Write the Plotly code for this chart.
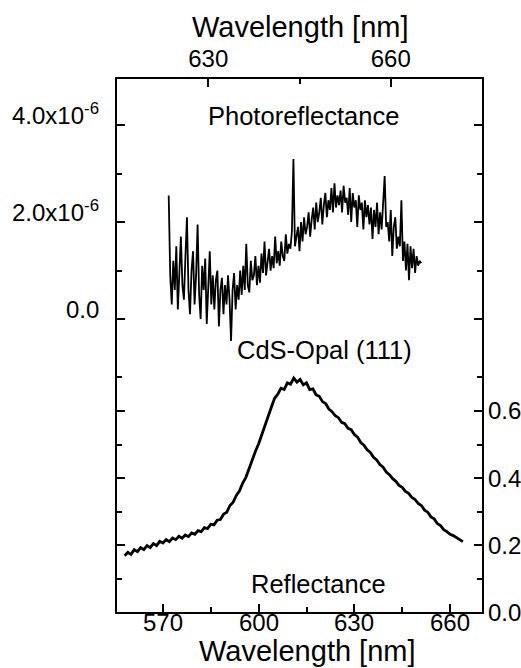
import plotly.graph_objects as go

# Photoreflectance (top wavelength scale), signal in units of 1e-6
pr_wavelength = [
    623.5, 623.75, 624.0, 624.25, 624.5, 624.75, 625.0, 625.25,
    625.5, 625.75, 626.0, 626.25, 626.5, 626.75, 627.0, 627.25,
    627.5, 627.75, 628.0, 628.25, 628.5, 628.75, 629.0, 629.25,
    629.5, 629.75, 630.0, 630.25, 630.5, 630.75, 631.0, 631.25,
    631.5, 631.75, 632.0, 632.25, 632.5, 632.75, 633.0, 633.25,
    633.5, 633.75, 634.0, 634.25, 634.5, 634.75, 635.0, 635.25,
    635.5, 635.75, 636.0, 636.25, 636.5, 636.75, 637.0, 637.25,
    637.5, 637.75, 638.0, 638.25, 638.5, 638.75, 639.0, 639.25,
    639.5, 639.75, 640.0, 640.25, 640.5, 640.75, 641.0, 641.25,
    641.5, 641.75, 642.0, 642.25, 642.5, 642.75, 643.0, 643.25,
    643.5, 643.75, 644.0, 644.25, 644.5, 644.75, 645.0, 645.25,
    645.5, 645.75, 646.0, 646.25, 646.5, 646.75, 647.0, 647.25,
    647.5, 647.75, 648.0, 648.25, 648.5, 648.75, 649.0, 649.25,
    649.5, 649.75, 650.0, 650.25, 650.5, 650.75, 651.0, 651.25,
    651.5, 651.75, 652.0, 652.25, 652.5, 652.75, 653.0, 653.25,
    653.5, 653.75, 654.0, 654.25, 654.5, 654.75, 655.0, 655.25,
    655.5, 655.75, 656.0, 656.25, 656.5, 656.75, 657.0, 657.25,
    657.5, 657.75, 658.0, 658.25, 658.5, 658.75, 659.0, 659.25,
    659.5, 659.75, 660.0, 660.25, 660.5, 660.75, 661.0, 661.25,
    661.5, 661.75, 662.0, 662.25, 662.5, 662.75, 663.0, 663.25,
    663.5, 663.75, 664.0, 664.25, 664.5, 664.75, 665.0,
]
pr_signal = [
    2.55, 0.90, 0.30, 1.20, 0.60, 1.50, 0.20, 1.10,
    1.70, 0.70, 0.40, 1.30, 2.10, 0.60, 0.10, 1.00,
    1.40, 0.30, 0.90, 1.95, 0.50, 0.00, 1.10, 0.60,
    1.25, -0.10, 0.70, 1.40, 0.30, 0.90, 0.20, 0.80,
    1.00, -0.15, 0.60, 0.85, 0.10, 0.70, 0.30, 0.90,
    0.40, -0.45, 0.60, 0.95, 0.20, 0.70, 0.40, 1.00,
    0.50, 1.10, 0.60, 1.55, 0.70, 0.55, 1.20, 0.80,
    0.90, 1.30, 0.70, 1.10, 0.75, 1.35, 0.95, 1.60,
    0.90, 1.20, 1.45, 1.00, 1.30, 1.05, 1.70, 1.15,
    1.40, 1.10, 1.60, 1.30, 1.20, 1.75, 1.35, 1.55,
    1.45, 1.80, 3.30, 1.50, 1.70, 1.90, 1.40, 2.00,
    1.60, 2.10, 1.75, 1.90, 2.20, 1.70, 2.05, 2.30,
    1.85, 2.40, 2.00, 2.20, 2.50, 1.95, 2.35, 2.60,
    2.10, 2.45, 2.25, 2.70, 2.20, 2.80, 2.30, 2.55,
    2.35, 2.65, 2.20, 2.75, 2.40, 2.50, 2.15, 2.70,
    2.00, 2.60, 2.30, 2.45, 1.90, 2.55, 2.25, 2.40,
    1.85, 2.45, 2.10, 2.35, 1.95, 2.30, 1.65, 2.25,
    1.90, 2.40, 1.75, 2.20, 1.85, 2.50, 2.95, 1.90,
    2.00, 1.60, 2.25, 1.30, 1.90, 2.10, 1.45, 1.70,
    1.50, 2.45, 1.20, 1.60, 1.00, 1.55, 0.80, 1.50,
    1.05, 1.45, 0.95, 1.30, 1.10, 1.20, 1.15,
]

# Reflectance (bottom wavelength scale)
refl_wavelength = [
    558, 559, 560, 561, 562, 563, 564, 565, 566, 567,
    568, 569, 570, 571, 572, 573, 574, 575, 576, 577,
    578, 579, 580, 581, 582, 583, 584, 585, 586, 587,
    588, 589, 590, 591, 592, 593, 594, 595, 596, 597,
    598, 599, 600, 601, 602, 603, 604, 605, 606, 607,
    608, 609, 610, 611, 612, 613, 614, 615, 616, 617,
    618, 619, 620, 621, 622, 623, 624, 625, 626, 627,
    628, 629, 630, 631, 632, 633, 634, 635, 636, 637,
    638, 639, 640, 641, 642, 643, 644, 645, 646, 647,
    648, 649, 650, 651, 652, 653, 654, 655, 656, 657,
    658, 659, 660, 661, 662, 663, 664,
]
refl_signal = [
    0.168, 0.178, 0.172, 0.186, 0.180, 0.192, 0.186, 0.198, 0.192, 0.204,
    0.198, 0.211, 0.206, 0.216, 0.210, 0.221, 0.216, 0.226, 0.220, 0.230,
    0.225, 0.236, 0.232, 0.243, 0.240, 0.252, 0.249, 0.262, 0.260, 0.274,
    0.276, 0.292, 0.298, 0.318, 0.328, 0.348, 0.362, 0.385, 0.402, 0.430,
    0.452, 0.480, 0.502, 0.530, 0.556, 0.590, 0.612, 0.638, 0.650, 0.668,
    0.664, 0.684, 0.680, 0.698, 0.686, 0.694, 0.678, 0.684, 0.664, 0.666,
    0.648, 0.644, 0.628, 0.622, 0.606, 0.598, 0.586, 0.580, 0.566, 0.562,
    0.548, 0.544, 0.530, 0.522, 0.506, 0.498, 0.484, 0.476, 0.462, 0.454,
    0.440, 0.432, 0.418, 0.410, 0.398, 0.390, 0.378, 0.372, 0.360, 0.354,
    0.342, 0.336, 0.324, 0.318, 0.304, 0.298, 0.284, 0.278, 0.264, 0.258,
    0.246, 0.240, 0.232, 0.228, 0.222, 0.218, 0.210,
]

bottom_ticks = [570, 600, 630, 660]
bottom_minor = [585, 615, 645]
top_ticks = [630, 660]
top_minor = [645]
pr_ticks = [0, 2, 4]
pr_minor = [1, 3]
pr_ticktext = ["0.0", "2.0x10<sup>-6</sup>", "4.0x10<sup>-6</sup>"]
refl_ticks = [0.0, 0.2, 0.4, 0.6]
refl_minor = [0.1, 0.3, 0.5, 0.7]
refl_ticktext = ["0.0", "0.2", "0.4", "0.6"]

FONT = "Liberation Sans, Arial, sans-serif"
W, H = 521, 668
L, R, T, B = 117, 482, 79, 612  # plot frame in pixels

fig = go.Figure()
fig.add_trace(go.Scatter(
    x=refl_wavelength, y=refl_signal, xaxis="x", yaxis="y",
    mode="lines", line=dict(color="black", width=2.8), showlegend=False,
))
fig.add_trace(go.Scatter(
    x=pr_wavelength, y=pr_signal, xaxis="x2", yaxis="y2",
    mode="lines", line=dict(color="black", width=1.8), showlegend=False,
))


def minor(vals):
    return dict(tickvals=vals, ticks="inside", ticklen=5, tickwidth=2,
                tickcolor="black")


axis_common = dict(
    showline=True, linecolor="black", linewidth=2, showgrid=False,
    zeroline=False, ticks="inside", ticklen=8, tickwidth=2, tickcolor="black",
    tickmode="array", automargin=False,
    tickfont=dict(family=FONT, size=24, color="black"),
)

fig.update_layout(
    width=W, height=H,
    margin=dict(l=L, r=W - R, t=T, b=H - B),
    paper_bgcolor="white", plot_bgcolor="white",
    font=dict(family=FONT, color="black"),
    xaxis=dict(range=[555.6, 670], tickvals=bottom_ticks,
               minor=minor(bottom_minor), anchor="y", side="bottom",
               showticklabels=False, **axis_common),
    yaxis=dict(range=[0, 1.591], tickvals=refl_ticks,
               minor=minor(refl_minor), mirror="ticks", anchor="x",
               side="right", showticklabels=False, **axis_common),
    xaxis2=dict(range=[615, 675], tickvals=top_ticks, minor=minor(top_minor),
                overlaying="x", anchor="y2", side="top", **axis_common),
    yaxis2=dict(range=[-6.04, 4.95], tickvals=pr_ticks,
                minor=minor(pr_minor), mirror="ticks", overlaying="y",
                anchor="x2", side="left", showticklabels=False,
                **axis_common),
)


def px_x(px):
    return (px - L) / (R - L)


def px_y(py):
    return (B - py) / (B - T)


def label(text, px, py, size):
    fig.add_annotation(
        text=text, x=px_x(px), y=px_y(py), xref="paper", yref="paper",
        xanchor="center", yanchor="middle", showarrow=False,
        font=dict(family=FONT, size=size, color="black"),
    )


tick_font = dict(family=FONT, size=24, color="black")

# tick labels placed by hand, close to the frame as in the reference
for v in bottom_ticks:
    fig.add_annotation(text=str(v), x=v, xref="x", y=px_y(622), yref="paper",
                       xanchor="center", yanchor="middle", showarrow=False,
                       font=tick_font)
for v, t in zip(pr_ticks, pr_ticktext):
    fig.add_annotation(text=t, x=px_x(101), xref="paper", y=v, yref="y2",
                       xanchor="right", yanchor="bottom", yshift=-6,
                       showarrow=False, font=tick_font)
for v, t in zip(refl_ticks, refl_ticktext):
    fig.add_annotation(text=t, x=px_x(486), xref="paper", y=v, yref="y",
                       xanchor="left", yanchor="middle", showarrow=False,
                       font=tick_font)

label("Wavelength [nm]", 300, 27, 29)
label("Wavelength [nm]", 307, 651, 29)
label("Photoreflectance", 303, 116, 25.5)
label("CdS-Opal (111)", 324, 350, 25.5)
label("Reflectance", 318, 584, 25.5)

# drop the default body margin so the figure fills the window exactly
fig.write_html("out.html", config={"displayModeBar": False},
               post_script="document.body.style.margin = '0';")
